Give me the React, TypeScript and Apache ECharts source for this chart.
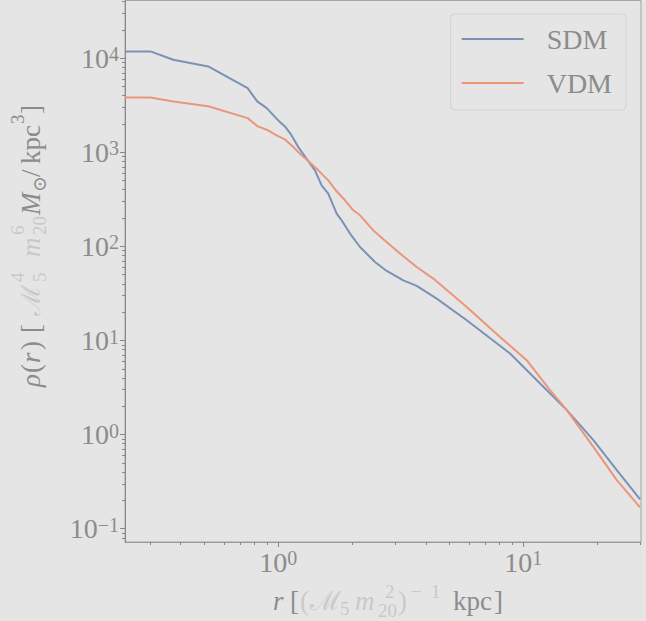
import React, { useEffect, useRef } from "react";
import * as echarts from "echarts";

// Density profiles rho(r) for the two dark-matter models
const radiusSDM = [
  0.237, 0.301, 0.373, 0.518, 0.75, 0.821, 0.897, 1.0, 1.065, 1.134, 1.207, 1.326, 1.412, 1.503, 1.6, 1.731,
  1.815, 1.962, 2.156, 2.481, 2.77, 3.237, 3.672, 4.432, 5.874, 8.826, 11.7, 15.04, 19.31, 24.06, 29.95,
];
const densitySDM = [
  11800, 11800, 9620, 8170, 4805, 3470, 2945, 2180, 1884, 1511, 1136, 807, 642, 445, 364, 223, 189, 137, 98.6,
  68.3, 54.8, 43.6, 38.0, 27.9, 16.4, 7.28, 3.5, 1.82, 0.874, 0.42, 0.205,
];
const radiusVDM = [
  0.237, 0.301, 0.373, 0.518, 0.75, 0.821, 0.897, 0.985, 1.065, 1.134, 1.226, 1.326, 1.434, 1.526, 1.6, 1.731,
  1.872, 2.024, 2.156, 2.443, 2.683, 3.139, 3.672, 4.292, 5.874, 8.033, 10.32, 12.85, 15.04, 19.31, 24.06, 29.95,
];
const densityVDM = [
  3830, 3830, 3470, 3090, 2307, 1897, 1738, 1511, 1371, 1184, 966, 807, 670, 568, 503, 385, 309, 242, 214, 148,
  119, 83.9, 60.4, 45.5, 22.7, 10.9, 6.18, 2.97, 1.82, 0.742, 0.329, 0.169,
];

const seriesNames = ["SDM", "VDM"];
const seriesColors = ["#7a92b5", "#e9967b"];

// Axis extents (data units) and labelled decades
const rRange = [0.237, 30.2];
const rhoRange = [0.0723, 41000];
const rDecades = [0, 1];
const rhoDecades = [-1, 0, 1, 2, 3, 4];

const SERIF = "'Liberation Serif', 'DejaVu Serif', serif";
const TEXT_DARK = "#8c8c8c";
const TEXT_LIGHT = "#c9c9c9";
const BG = "#e5e5e5";
const TITLE_SIZE = 27;
const SCRIPT_SIZE = 19;

const lg = Math.log10;

function minorTicks(lo: number, hi: number): number[] {
  const out: number[] = [];
  for (let e = Math.floor(lo) - 1; e <= Math.ceil(hi); e++) {
    for (let m = 2; m <= 9; m++) {
      const v = e + Math.log10(m);
      if (v >= lo && v <= hi) out.push(v);
    }
  }
  return out;
}

function powerLabel(v: number): string {
  const n = Math.round(v);
  const s = n < 0 ? "\u2212" + -n : String(n);
  return `{b|10}{s|${s}}`;
}

const labelRich = {
  b: { fontSize: 28, fontFamily: SERIF, color: TEXT_DARK, lineHeight: 28 },
  s: { fontSize: 20, fontFamily: SERIF, color: TEXT_DARK, verticalAlign: "top", lineHeight: 20 },
};

type Piece = { t: string; x: number; dy: number; script?: boolean; italic?: boolean; light?: boolean };

function pieceEl(p: Piece) {
  const size = p.script ? SCRIPT_SIZE : TITLE_SIZE;
  return {
    type: "text",
    x: p.x,
    y: p.dy,
    silent: true,
    style: {
      text: p.t,
      fill: p.light ? TEXT_LIGHT : TEXT_DARK,
      font: `${p.italic ? "italic " : ""}${size}px ${SERIF}`,
      textAlign: "left",
      textVerticalAlign: "middle",
    },
  };
}

// r [(M5 m20^2)^-1 kpc]
const xTitle: Piece[] = [
  { t: "r", x: 273, dy: 0, italic: true },
  { t: "[", x: 290, dy: 0 },
  { t: "(", x: 300, dy: 0, light: true },
  { t: "\u2133", x: 310, dy: 0, light: true },
  { t: "5", x: 340, dy: 7, script: true, light: true },
  { t: "m", x: 355, dy: 0, italic: true, light: true },
  { t: "2", x: 385, dy: -10, script: true, light: true },
  { t: "20", x: 378, dy: 9, script: true, light: true },
  { t: ")", x: 398, dy: 0, light: true },
  { t: "\u2212", x: 411, dy: -10, script: true, light: true },
  { t: "1", x: 431, dy: -10, script: true, light: true },
  { t: "kpc", x: 453, dy: 0 },
  { t: "]", x: 494, dy: 0 },
];

// rho(r) [M5^4 m20^6 Msun/kpc^3], laid out along the rotated baseline
const yTitle: Piece[] = [
  { t: "\u03c1", x: 0, dy: 0, italic: true },
  { t: "(", x: 14, dy: 0 },
  { t: "r", x: 24, dy: 0, italic: true },
  { t: ")", x: 37, dy: 0 },
  { t: "[", x: 54, dy: 0 },
  { t: "\u2133", x: 71, dy: 0, light: true },
  { t: "5", x: 105, dy: 8, script: true, light: true },
  { t: "4", x: 105, dy: -14, script: true, light: true },
  { t: "m", x: 130, dy: 0, italic: true, light: true },
  { t: "20", x: 152, dy: 8, script: true, light: true },
  { t: "6", x: 152, dy: -14, script: true, light: true },
  { t: "M", x: 172, dy: 0, italic: true },
  { t: "\u2299", x: 195, dy: 8, script: true },
  { t: "/", x: 210, dy: 0 },
  { t: "kpc", x: 223, dy: 0 },
  { t: "3", x: 263, dy: -14, script: true },
  { t: "]", x: 273, dy: 0 },
];

export default function App() {
  const ref = useRef<HTMLDivElement>(null);

  useEffect(() => {
    if (!ref.current) return;
    const chart = echarts.init(ref.current, undefined, { renderer: "svg" });

    const xMin = lg(rRange[0]);
    const xMax = lg(rRange[1]);
    const yMin = lg(rhoRange[0]);
    const yMax = lg(rhoRange[1]);

    const profiles = [
      { r: radiusSDM, rho: densitySDM },
      { r: radiusVDM, rho: densityVDM },
    ];

    const tickStyle = { color: "#888888", width: 1 };

    chart.setOption({
      animation: false,
      backgroundColor: BG,
      grid: {
        left: 125,
        right: 5,
        top: 0.5,
        bottom: 79,
        show: true,
        backgroundColor: BG,
        borderColor: "#a5a5a5",
        borderWidth: 1,
      },
      legend: {
        data: seriesNames,
        orient: "vertical",
        right: 20,
        top: 14,
        icon: "rect",
        itemWidth: 62,
        itemHeight: 2,
        itemGap: 16,
        padding: [11, 14, 13, 11],
        backgroundColor: BG,
        borderColor: "#d2d2d2",
        borderWidth: 1,
        borderRadius: 4,
        textStyle: {
          fontFamily: SERIF,
          fontSize: 28,
          lineHeight: 28,
          color: TEXT_DARK,
          padding: [0, 0, 0, 18],
        },
      },
      xAxis: [
        {
          type: "value",
          min: xMin,
          max: xMax,
          position: "bottom",
          axisLine: { show: true, onZero: false, lineStyle: { color: "#999999", width: 1 } },
          axisTick: { show: true, length: 5, lineStyle: tickStyle, customValues: rDecades },
          axisLabel: {
            show: true,
            customValues: rDecades,
            margin: 6,
            formatter: powerLabel,
            rich: labelRich,
          },
          splitLine: { show: false },
        },
        {
          type: "value",
          min: xMin,
          max: xMax,
          position: "bottom",
          axisLine: { show: false, onZero: false },
          axisTick: { show: true, length: 3, lineStyle: tickStyle, customValues: minorTicks(xMin, xMax) },
          axisLabel: { show: false },
          splitLine: { show: false },
        },
      ],
      yAxis: [
        {
          type: "value",
          min: yMin,
          max: yMax,
          position: "left",
          axisLine: { show: true, onZero: false, lineStyle: { color: "#888888", width: 1 } },
          axisTick: { show: true, length: 5, lineStyle: tickStyle, customValues: rhoDecades },
          axisLabel: {
            show: true,
            customValues: rhoDecades,
            margin: 6,
            align: "right",
            formatter: powerLabel,
            rich: labelRich,
          },
          splitLine: { show: false },
        },
        {
          type: "value",
          min: yMin,
          max: yMax,
          position: "left",
          axisLine: { show: false, onZero: false },
          axisTick: { show: true, length: 3, lineStyle: tickStyle, customValues: minorTicks(yMin, yMax) },
          axisLabel: { show: false },
          splitLine: { show: false },
        },
      ],
      series: profiles.map((p, i) => ({
        name: seriesNames[i],
        type: "line",
        xAxisIndex: 0,
        yAxisIndex: 0,
        showSymbol: false,
        symbol: "none",
        clip: true,
        lineStyle: { color: seriesColors[i], width: 2 },
        itemStyle: { color: seriesColors[i] },
        data: p.r.map((r, k) => [lg(r), lg(p.rho[k])]),
      })),
      graphic: [
        { type: "group", x: 0, y: 601, silent: true, children: xTitle.map(pieceEl) },
        { type: "group", x: 31, y: 387, rotation: Math.PI / 2, silent: true, children: yTitle.map(pieceEl) },
      ],
    });

    return () => chart.dispose();
  }, []);

  return <div ref={ref} style={{ position: "fixed", left: 0, top: 0, width: 646, height: 621 }} />;
}
